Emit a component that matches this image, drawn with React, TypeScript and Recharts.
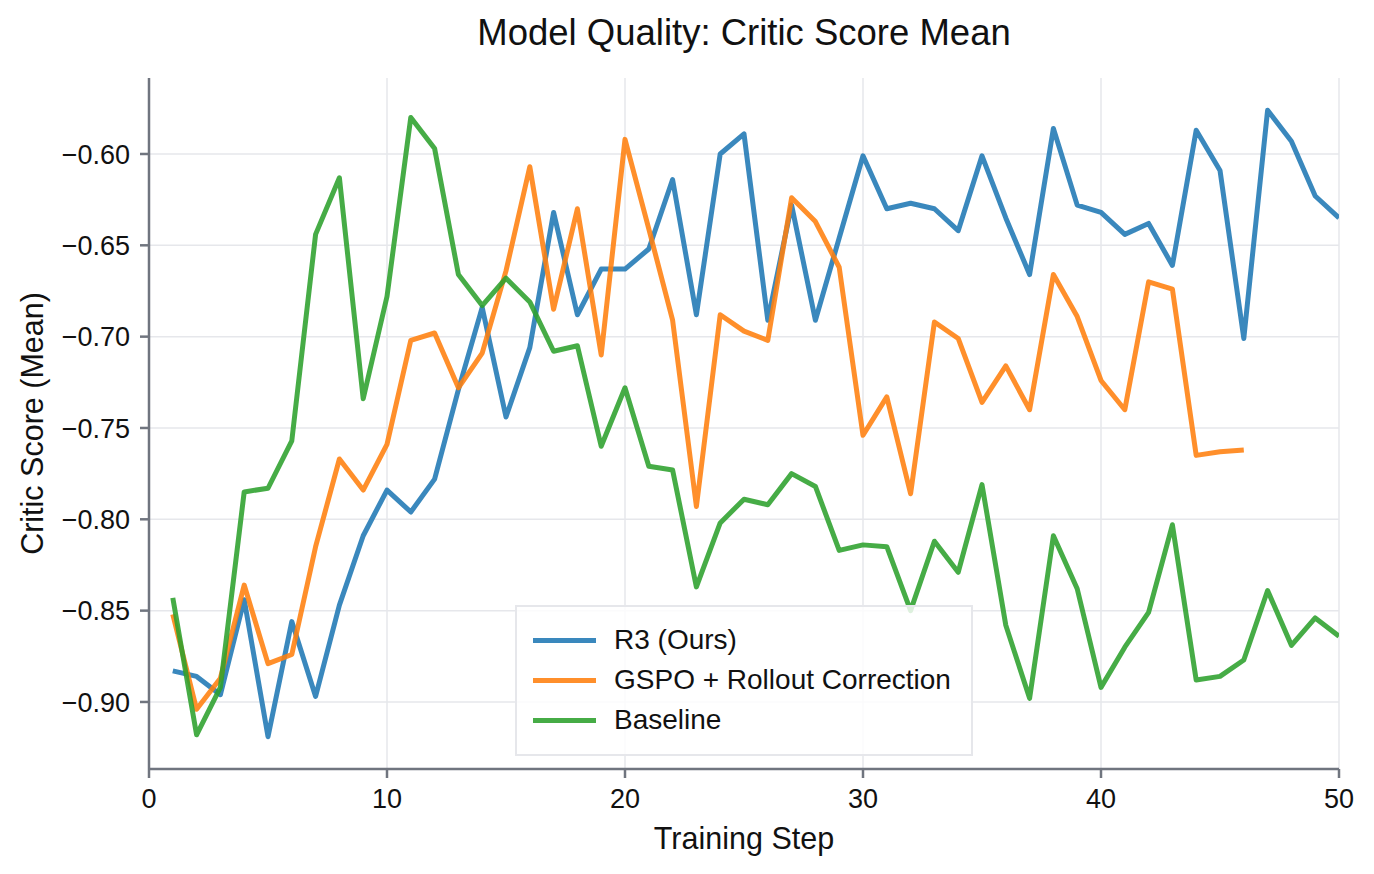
import React from 'react';
import { LineChart, Line, XAxis, YAxis, CartesianGrid, Legend, Label } from 'recharts';

const steps = [
  1, 2, 3, 4, 5, 6, 7, 8, 9, 10, 11, 12, 13, 14, 15, 16, 17, 18, 19, 20, 21, 22, 23, 24, 25,
  26, 27, 28, 29, 30, 31, 32, 33, 34, 35, 36, 37, 38, 39, 40, 41, 42, 43, 44, 45, 46, 47, 48, 49, 50,
];

const r3Scores = [
  -0.883, -0.886, -0.896, -0.844, -0.919, -0.856, -0.897, -0.847, -0.809, -0.784,
  -0.796, -0.778, -0.729, -0.684, -0.744, -0.706, -0.632, -0.688, -0.663, -0.663,
  -0.652, -0.614, -0.688, -0.6, -0.589, -0.691, -0.628, -0.691, -0.646, -0.601,
  -0.63, -0.627, -0.63, -0.642, -0.601, -0.635, -0.666, -0.586, -0.628, -0.632,
  -0.644, -0.638, -0.661, -0.587, -0.609, -0.701, -0.576, -0.593, -0.623, -0.635,
];

const gspoScores: (number | null)[] = [
  -0.852, -0.904, -0.887, -0.836, -0.879, -0.874, -0.815, -0.767, -0.784, -0.759,
  -0.702, -0.698, -0.728, -0.709, -0.664, -0.607, -0.685, -0.63, -0.71, -0.592,
  -0.641, -0.691, -0.793, -0.688, -0.697, -0.702, -0.624, -0.637, -0.662, -0.754,
  -0.733, -0.786, -0.692, -0.701, -0.736, -0.716, -0.74, -0.666, -0.689, -0.724,
  -0.74, -0.67, -0.674, -0.765, -0.763, -0.762, null, null, null, null,
];

const baselineScores = [
  -0.843, -0.918, -0.892, -0.785, -0.783, -0.757, -0.644, -0.613, -0.734, -0.678,
  -0.58, -0.597, -0.666, -0.683, -0.668, -0.681, -0.708, -0.705, -0.76, -0.728,
  -0.771, -0.773, -0.837, -0.802, -0.789, -0.792, -0.775, -0.782, -0.817, -0.814,
  -0.815, -0.85, -0.812, -0.829, -0.781, -0.858, -0.898, -0.809, -0.838, -0.892,
  -0.87, -0.851, -0.803, -0.888, -0.886, -0.877, -0.839, -0.869, -0.854, -0.864,
];

const seriesNames = ['R3 (Ours)', 'GSPO + Rollout Correction', 'Baseline'];

const xTicks = [0, 10, 20, 30, 40, 50];
const yTicks = [-0.9, -0.85, -0.8, -0.75, -0.7, -0.65, -0.6];

const FONT = '"Liberation Sans", Arial, Helvetica, sans-serif';
const AXIS_COLOR = '#70757f';
const GRID_COLOR = '#e6e7eb';
const LINE_WIDTH = 5;

const chartData = steps.map((step, i) => ({
  step,
  r3: r3Scores[i],
  gspo: gspoScores[i],
  baseline: baselineScores[i],
}));

const formatY = (v: number) => (v < 0 ? '\u2212' : '') + Math.abs(v).toFixed(2);

const renderLegend = (props: any) => {
  const items = [...(props.payload || [])].sort(
    (a: any, b: any) => seriesNames.indexOf(a.value) - seriesNames.indexOf(b.value),
  );
  return (
    <div
      style={{
        boxSizing: 'border-box',
        width: 458,
        height: 151,
        border: '2.5px solid #e6e7eb',
        background: 'rgba(255,255,255,0.82)',
        padding: '13px 0 0 16px',
        fontFamily: FONT,
      }}
    >
      {items.map((item: any) => (
        <div key={item.value} style={{ display: 'flex', alignItems: 'center', height: 40 }}>
          <div style={{ width: 63, height: LINE_WIDTH, background: item.color, opacity: 0.88, marginRight: 18 }} />
          <span style={{ fontSize: 28, color: '#111' }}>{item.value}</span>
        </div>
      ))}
    </div>
  );
};

const renderYLabel = (props: any) => {
  const vb = props.viewBox || { x: 0, y: 0, width: 0, height: 0 };
  const cx = 32;
  const cy = vb.y + vb.height / 2;
  return (
    <text
      x={cx}
      y={cy}
      transform={`rotate(-90 ${cx} ${cy})`}
      textAnchor='middle'
      dominantBaseline='central'
      fontSize={30.5}
      fontFamily={FONT}
      fill='#111'
    >
      Critic Score (Mean)
    </text>
  );
};

export default function App() {
  return (
    <div style={{ position: 'relative', width: 1374, height: 874, background: '#fff' }}>
      <style>{`body { margin: 0; }`}</style>
      <div
        style={{
          position: 'absolute',
          top: 12,
          left: 149,
          width: 1190,
          textAlign: 'center',
          fontFamily: FONT,
          fontSize: 36.5,
          color: '#111',
        }}
      >
        Model Quality: Critic Score Mean
      </div>
      <LineChart
        width={1374}
        height={874}
        data={chartData}
        margin={{ top: 78, right: 35, bottom: 45, left: 49 }}
        style={{ fontFamily: FONT }}
      >
        <CartesianGrid stroke={GRID_COLOR} strokeWidth={1.5} verticalValues={xTicks} horizontalValues={yTicks} />
        <XAxis
          dataKey='step'
          type='number'
          domain={[0, 50]}
          ticks={xTicks}
          allowDataOverflow
          height={60}
          stroke={AXIS_COLOR}
          strokeWidth={2.5}
          tickSize={9}
          tickMargin={11}
          tick={{ fill: '#111', fontSize: 27, fontFamily: FONT }}
        >
          <Label value='Training Step' position='insideBottom' offset={-20} fontSize={30.5} fill='#111' fontFamily={FONT} />
        </XAxis>
        <YAxis
          type='number'
          domain={[-0.9367, -0.5584]}
          ticks={yTicks}
          allowDataOverflow
          width={100}
          stroke={AXIS_COLOR}
          strokeWidth={2.5}
          tickSize={9}
          tickMargin={10}
          tickFormatter={formatY}
          tick={{ fill: '#111', fontSize: 27, fontFamily: FONT }}
        >
          <Label content={renderYLabel} />
        </YAxis>
        <Legend
          layout='vertical'
          align='center'
          verticalAlign='middle'
          content={renderLegend}
          wrapperStyle={{ left: 515, top: 605, width: 458, height: 151 }}
        />
        <Line
          dataKey='r3'
          name='R3 (Ours)'
          type='linear'
          stroke='#1f77b4'
          strokeOpacity={0.88}
          strokeWidth={LINE_WIDTH}
          strokeLinejoin='round'
          dot={false}
          activeDot={false}
          isAnimationActive={false}
        />
        <Line
          dataKey='gspo'
          name='GSPO + Rollout Correction'
          type='linear'
          stroke='#ff7f0e'
          strokeOpacity={0.88}
          strokeWidth={LINE_WIDTH}
          strokeLinejoin='round'
          dot={false}
          activeDot={false}
          isAnimationActive={false}
        />
        <Line
          dataKey='baseline'
          name='Baseline'
          type='linear'
          stroke='#2ca02c'
          strokeOpacity={0.88}
          strokeWidth={LINE_WIDTH}
          strokeLinejoin='round'
          dot={false}
          activeDot={false}
          isAnimationActive={false}
        />
      </LineChart>
    </div>
  );
}
